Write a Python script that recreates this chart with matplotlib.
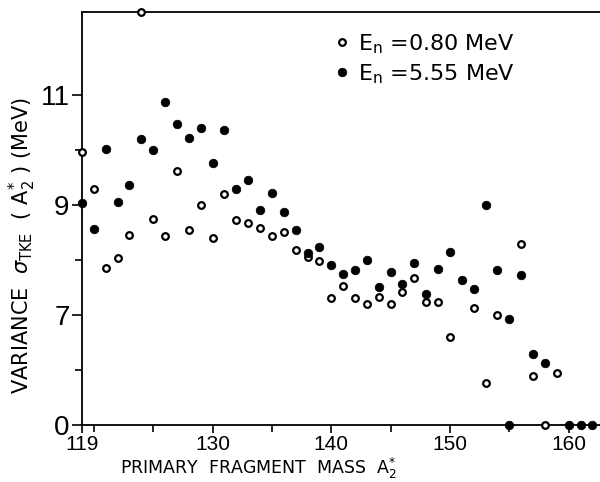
"""Variance of TKE vs primary fragment mass, two neutron energies."""

import matplotlib
matplotlib.use("Agg")
import matplotlib.pyplot as plt
import numpy as np

# E_n = 0.80 MeV (open circles)
mass_080 = [119, 120, 121, 122, 123, 124, 125, 126, 127, 128, 129, 130, 131, 132,
            133, 134, 135, 136, 137, 138, 139, 140, 141, 142, 143, 144, 145, 146,
            147, 148, 149, 150, 152, 153, 154, 156, 157, 159]
var_080 = [9.96, 9.29, 7.85, 8.04, 8.45, 12.5, 8.74, 8.44, 9.61, 8.54, 9.00, 8.40,
           9.20, 8.72, 8.67, 8.57, 8.44, 8.51, 8.18, 8.05, 7.97, 7.31, 7.52, 7.31,
           7.19, 7.33, 7.19, 7.41, 7.67, 7.24, 7.24, 6.60, 7.13, 5.76, 7.00, 8.28,
           5.89, 5.95]
zero_080 = [158]

# E_n = 5.55 MeV (filled circles)
mass_555 = [119, 120, 121, 122, 123, 124, 125, 126, 127, 128, 129, 130, 131, 132,
            133, 134, 135, 136, 137, 138, 139, 140, 141, 142, 143, 144, 145, 146,
            147, 148, 149, 150, 151, 152, 153, 154, 155, 156, 157, 158]
var_555 = [9.03, 8.56, 10.01, 9.05, 9.36, 10.20, 10.00, 10.87, 10.47, 10.22, 10.40,
           9.76, 10.36, 9.28, 9.45, 8.90, 9.21, 8.87, 8.54, 8.12, 8.24, 7.90, 7.75,
           7.81, 8.00, 7.51, 7.77, 7.56, 7.95, 7.38, 7.83, 8.15, 7.64, 7.47, 8.99,
           7.82, 6.93, 7.73, 6.29, 6.12]
zero_555 = [155, 160, 161, 162, 163]

Y_FLOOR = 5.0  # broken axis: bottom line stands for 0

fig = plt.figure(figsize=(6.0, 4.82), dpi=100)
ax = fig.add_axes([82 / 600, 1 - 425 / 482, 518 / 600, 413 / 482])

open_kw = dict(ls="none", marker="o", ms=4.8, mfc="white", mec="black", mew=1.6,
               clip_on=False, zorder=3)
fill_kw = dict(ls="none", marker="o", ms=6.2, mfc="black", mec="black", mew=0.5,
               clip_on=False, zorder=3)

h1, = ax.plot(mass_080, var_080, **open_kw)
ax.plot(zero_080, np.full(len(zero_080), Y_FLOOR), **open_kw)
h2, = ax.plot(mass_555, var_555, **fill_kw)
ax.plot(zero_555, np.full(len(zero_555), Y_FLOOR), **fill_kw)

ax.set_xlim(119, 119 + 518 / 11.87)
ax.set_ylim(Y_FLOOR, 12.5)

num_font = ["Liberation Sans", "DejaVu Sans"]
ax.set_xticks([119, 130, 140, 150, 160])
ax.set_xticklabels(["119", "130", "140", "150", "160"], family=num_font, fontsize=15)
ax.set_xticks([120, 125, 135, 145, 155], minor=True)
ax.set_yticks([5, 7, 9, 11])
ax.set_yticklabels(["0", "7", "9", "11"], family=num_font, fontsize=20)
ax.set_yticks([6, 8, 10], minor=True)

ax.tick_params(axis="both", which="both", direction="out", width=1.2, color="black")
ax.tick_params(axis="y", which="major", length=7, pad=2)
ax.tick_params(axis="y", which="minor", length=5)
ax.tick_params(axis="x", which="major", length=6, pad=1)
ax.tick_params(axis="x", which="minor", length=5)

for side in ("left", "bottom", "top"):
    ax.spines[side].set_linewidth(1.3)
ax.spines["right"].set_visible(False)

ax.set_xlabel(r"PRIMARY  FRAGMENT  MASS  $\mathregular{A}^{*}_{2}$", fontsize=12.5)
ax.xaxis.set_label_coords((258 - 82) / 518, -0.074)
ax.set_ylabel(r"VARIANCE  $\sigma_{\mathregular{TKE}}$  ( $\mathregular{A}^{*}_{2}$ ) (MeV)",
              fontsize=15)
ax.yaxis.set_label_coords(-0.085, (425 - 245) / 413)

ax.legend([h1, h2],
          [r"E$_{\mathregular{n}}$ =0.80 MeV", r"E$_{\mathregular{n}}$ =5.55 MeV"],
          loc="upper left", bbox_to_anchor=((336 - 82) / 518, 1 - 20 / 413),
          frameon=False, fontsize=16, handlelength=0.5, handletextpad=0.5,
          labelspacing=0.3, borderaxespad=0, borderpad=0)

fig.savefig("out.png", dpi=100)
